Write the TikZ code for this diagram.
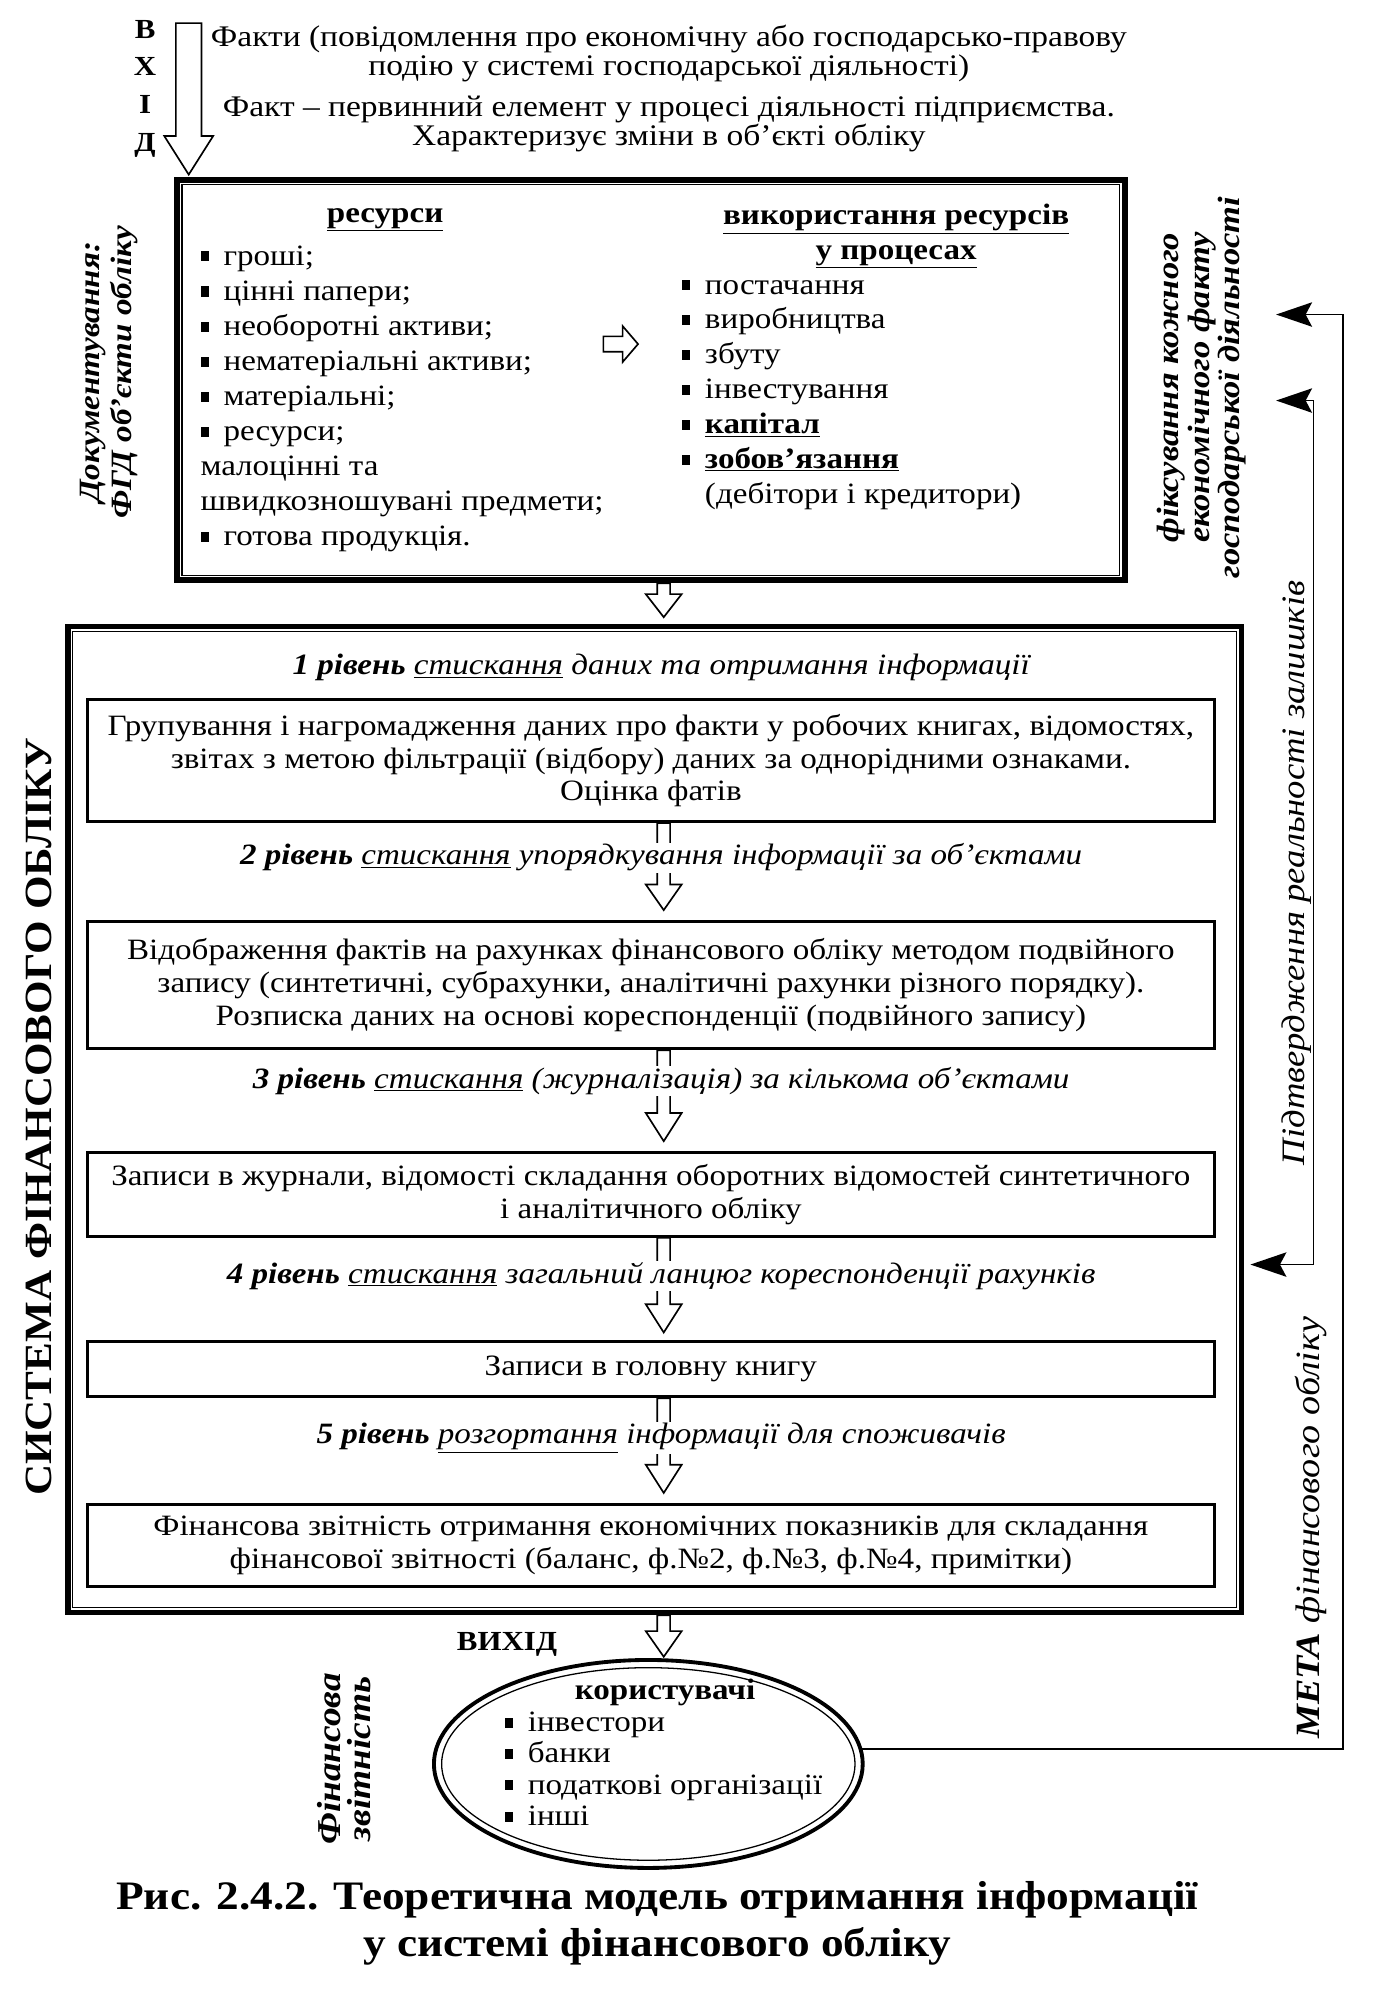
\documentclass[tikz,border=0pt]{standalone}
\usepackage{fontspec}
\setmainfont[FakeStretch=1.12]{Liberation Serif}
\usetikzlibrary{arrows.meta,positioning,calc,shapes.geometric}
\tikzset{
  arr/.style={->,line width=1.3pt},
  hollow/.style={draw,line width=1.3pt,line join=miter},
  outerframe/.style={draw,line width=4.5pt,inner sep=0pt},
  innerframe/.style={draw,line width=1pt},
  stepbox/.style={draw,line width=2.2pt,minimum width=878pt,align=center,inner sep=0pt,font=\fontsize{23}{25.5}\selectfont},
  lvl/.style={fill=white,inner sep=1pt,font=\fontsize{23}{26}\selectfont\itshape},
  side/.style={rotate=90,align=center}
}
\newcommand{\sq}{\rule[0.12em]{0.28em}{0.34em}\hspace{0.5em}}
% hollow arrow pointing down: start, tip, half shaft, half head, head length
\newcommand{\hollowdown}[5]{%
  \draw[hollow] let \p1=(#1), \p2=(#2) in
    (\x1-#3,\y1) -- (\x1-#3,\y2+#5) -- (\x1-#4,\y2+#5) -- (\x2,\y2)
    -- (\x1+#4,\y2+#5) -- (\x1+#3,\y2+#5) -- (\x1+#3,\y1) -- cycle;}

\begin{document}
\begin{tikzpicture}[x=1pt,y=-1pt,>={Stealth[length=28pt,width=19pt,inset=5pt]}]
  \useasboundingbox (0,0) rectangle (1086,1568);
  % input
  \node[font=\fontsize{21.5}{29.3}\selectfont\bfseries,align=center] (vhid) at (113,69) {В\\Х\\І\\Д};
  \coordinate (intop) at (147,18);
  \coordinate (intip) at (147,136);
  \hollowdown{intop}{intip}{10pt}{19pt}{30pt}
  \node[font=\fontsize{23.3}{22.5}\selectfont,align=center] (facts) at (521,69) {Факти (повідомлення про економічну або господарсько-правову\\подію у системі господарської діяльності)\\[10pt]Факт -- первинний елемент у процесі діяльності підприємства.\\Характеризує зміни в об’єкті обліку};

  % resources
  \node[outerframe,minimum width=738pt,minimum height=312pt] (res) at (507,296) {};
  \draw[innerframe] ([shift={(6pt,-6pt)}]res.north west) rectangle ([shift={(-6pt,6pt)}]res.south east);
  \node[font=\fontsize{23}{27}\selectfont\bfseries] (reshead) at (300,171) {\underline{ресурси}};
  \node[font=\fontsize{23}{27.3}\selectfont,align=left,anchor=north west,inner sep=0pt] (reslist) at (156,191) {\sq гроші;\\\sq цінні папери;\\\sq необоротні активи;\\\sq нематеріальні активи;\\\sq матеріальні;\\\sq ресурси;\\малоцінні та\\швидкозношувані предмети;\\\sq готова продукція.};
  \node[font=\fontsize{23}{27}\selectfont\bfseries,align=center] (usehead) at (698,184) {\underline{використання ресурсів}\\\underline{у процесах}};
  \node[font=\fontsize{23}{27.2}\selectfont,align=left,anchor=north west,inner sep=0pt] (uselist) at (531,218) {\sq постачання\\\sq виробництва\\\sq збуту\\\sq інвестування\\\sq \textbf{\underline{капітал}}\\\sq \textbf{\underline{зобов’язання}}\\\hphantom{\sq}(дебітори і кредитори)};
  \coordinate (rfrom) at (470,268);
  \coordinate (rtip) at (497,268);
  \draw[hollow] let \p1=(rfrom), \p2=(rtip) in
    (\x1,\y1-6pt) -- (\x2-12pt,\y1-6pt) -- (\x2-12pt,\y1-14pt) -- (\x2,\y2)
    -- (\x2-12pt,\y1+14pt) -- (\x2-12pt,\y1+6pt) -- (\x1,\y1+6pt) -- cycle;

  % system of accounting
  \node[outerframe,minimum width=914pt,minimum height=768pt] (sys) at (510,872) {};
  \draw[innerframe] ([shift={(6pt,-6pt)}]sys.north west) rectangle ([shift={(-6pt,6pt)}]sys.south east);
  \coordinate (ax) at (517,0);
  \node[stepbox,minimum height=95pt] (ga) at (507,592.5) {Групування і нагромадження даних про факти у робочих книгах, відомостях,\\звітах з метою фільтрації (відбору) даних за однорідними ознаками.\\Оцінка фатів};
  \node[stepbox,minimum height=99pt] (gb) at (507,767.5) {Відображення фактів на рахунках фінансового обліку методом подвійного\\запису (синтетичні, субрахунки, аналітичні рахунки різного порядку).\\Розписка даних на основі кореспонденції (подвійного запису)};
  \node[stepbox,minimum height=65pt] (gc) at (507,930.5) {Записи в журнали, відомості складання оборотних відомостей синтетичного\\і аналітичного обліку};
  \node[stepbox,minimum height=43pt] (gd) at (507,1066.5) {Записи в головну книгу};
  \node[stepbox,minimum height=64pt] (ge) at (507,1204) {Фінансова звітність отримання економічних показників для складання\\фінансової звітності (баланс, ф.№2, ф.№3, ф.№4, примітки)};

  \hollowdown{res.south -| ax}{$(sys.north -| ax)+(0,-5)$}{5pt}{14pt}{18pt}
  \hollowdown{ga.south -| ax}{$(gb.north -| ax)+(0,-8)$}{5pt}{14pt}{20pt}
  \hollowdown{gb.south -| ax}{$(gc.north -| ax)+(0,-8)$}{5pt}{14pt}{22pt}
  \hollowdown{gc.south -| ax}{$(gd.north -| ax)+(0,-6)$}{5pt}{14pt}{22pt}
  \hollowdown{gd.south -| ax}{$(ge.north -| ax)+(0,-8)$}{5pt}{14pt}{22pt}

  \node[lvl] (l1) at (515,520) {\textbf{1 рівень} \underline{стискання} даних та отримання інформації};
  \node[lvl] (l2) at (515,668) {\textbf{2 рівень} \underline{стискання} упорядкування інформації за об’єктами};
  \node[lvl] (l3) at (515,842) {\textbf{3 рівень} \underline{стискання} (журналізація) за кількома об’єктами};
  \node[lvl] (l4) at (515,994) {\textbf{4 рівень} \underline{стискання} загальний ланцюг кореспонденції рахунків};
  \node[lvl] (l5) at (515,1120) {\textbf{5 рівень} \underline{розгортання} інформації для споживачів};

  % output
  \node[draw,ellipse,line width=3pt,minimum width=334pt,minimum height=162pt] (users) at (505,1374) {};
  \draw[line width=1pt] (users.center) ellipse [x radius=161pt, y radius=75pt];
  \hollowdown{sys.south -| ax}{$(users.north -| ax)+(0,-1)$}{5pt}{14pt}{20pt}
  \node[font=\fontsize{21.5}{26}\selectfont\bfseries] (vyhid) at (395,1281) {ВИХІД};
  \node[font=\fontsize{23}{25}\selectfont\bfseries] (uhead) at (518,1318) {користувачі};
  \node[font=\fontsize{23}{24.5}\selectfont,align=left,anchor=north west,inner sep=0pt] (ulist) at (393,1333) {\sq інвестори\\\sq банки\\\sq податкові організації\\\sq інші};

  % side texts
  \node[side,font=\fontsize{23}{25}\selectfont\bfseries\itshape] (doc) at (85,290) {Документування:\\ФГД об’єкти обліку};
  \node[side,font=\fontsize{30}{34}\selectfont\bfseries] (sysname) at (30,870) {СИСТЕМА ФІНАНСОВОГО ОБЛІКУ};
  \node[side,font=\fontsize{24}{24}\selectfont\bfseries\itshape] (fix) at (936,302) {фіксування кожного\\економічного факту\\господарської діяльності};
  \node[side,font=\fontsize{25.5}{28}\selectfont\itshape] (confirm) at (1010,680) {Підтвердження реальності залишків};
  \node[side,font=\fontsize{26.5}{28}\selectfont\itshape] (goal) at (1021,1190) {\textbf{МЕТА} фінансового обліку};
  \node[side,font=\fontsize{26}{24}\selectfont\bfseries\itshape] (rep) at (268,1370) {Фінансова\\звітність};

  % feedback lines
  \coordinate (mline) at (1046,0);
  \coordinate (ftop) at (994,245);
  \coordinate (iline) at (1023,0);
  \coordinate (fmid) at (994,312);
  \coordinate (fbot) at (974,985);
  \draw[arr] (users.4) -- (users.4 -| mline) -- (mline |- ftop) -- (ftop);
  \draw[arr,<->] (fbot) -- (fbot -| iline) -- (iline |- fmid) -- (fmid);

  % caption
  \node[font=\fontsize{31.5}{37}\selectfont\bfseries,align=center] (caption) at (512,1498) {Рис. 2.4.2. Теоретична модель отримання інформації\\у системі фінансового обліку};
\end{tikzpicture}
\end{document}
